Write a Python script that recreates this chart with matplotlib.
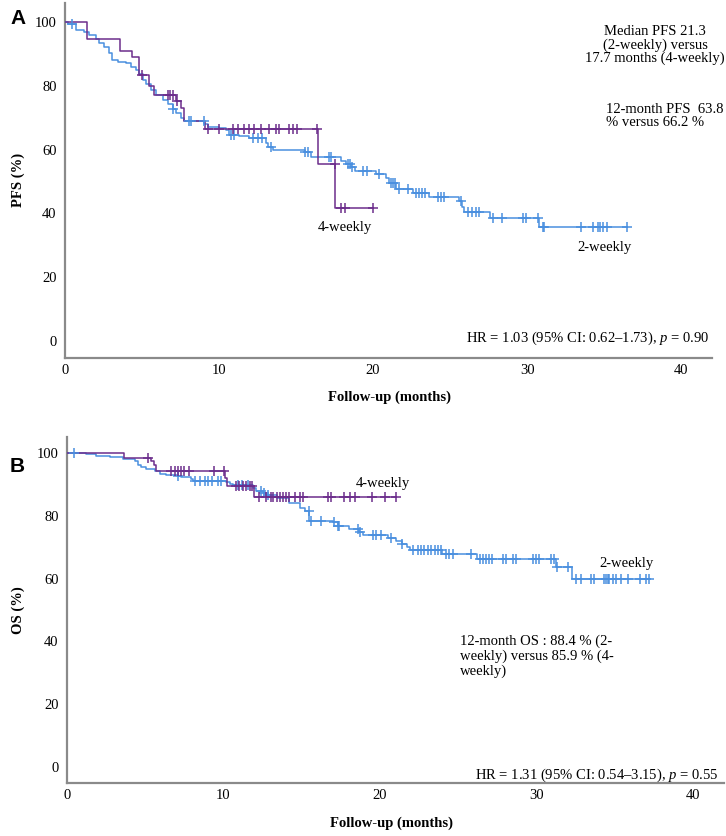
import numpy as np
import matplotlib
matplotlib.use("Agg")
import matplotlib.pyplot as plt

plt.rcParams['font.family'] = ['Liberation Serif', 'DejaVu Serif']
plt.rcParams['mathtext.fontset'] = 'custom'
plt.rcParams['mathtext.rm'] = 'Liberation Serif'
plt.rcParams['mathtext.it'] = 'Liberation Serif:italic'

# ---------------- Panel A (PFS) ----------------
a2_times = [0, 0.17, 0.71, 1.26, 1.58, 2.01, 2.23, 2.55, 2.88, 3.05, 3.42, 3.96, 4.29, 4.61,
            4.83, 5.04, 5.26, 5.58, 5.91, 6.34, 6.67, 6.99, 7.21, 7.53, 7.75, 9.05, 9.26, 10.0,
            10.45, 10.67, 11.3, 11.97, 13.05, 13.16, 13.5, 15.55, 15.98, 17.92, 18.25, 18.57,
            18.85, 20.2, 20.85, 21.06, 21.5, 22.6, 23.66, 25.6, 25.78, 25.93, 27.56, 30.76]
a2_surv = [100, 99.3, 97.4, 96.7, 95.8, 94.5, 93.4, 92.2, 90.1, 88.2, 87.5, 87.0, 85.9, 84.9,
           83.6, 81.8, 80.5, 78.6, 77.1, 75.5, 74.3, 72.6, 71.4, 69.8, 68.8, 68.0, 67.2, 66.7,
           66.1, 64.6, 64.1, 63.5, 62.0, 60.9, 60.0, 59.3, 57.8, 56.3, 55.5, 54.6,
           53.4, 52.4, 51.1, 49.5, 47.6, 46.4, 45.1, 43.8, 42.0, 40.3, 38.6, 35.7]
a2_censor = [0.43, 7.0, 8.07, 8.18, 9.0, 10.8, 11.0, 12.2, 12.5, 12.8, 13.4, 15.6, 15.76,
             17.12, 17.28, 18.36, 18.47, 18.6, 19.37, 19.59, 20.41, 21.17, 21.28, 21.39,
             21.71, 22.25, 22.79, 23.0, 23.2, 23.4, 24.2, 24.4, 24.6, 25.7, 26.15, 26.4,
             26.7, 26.9, 27.8, 28.4, 29.7, 29.9, 30.7, 31.0, 31.1, 33.5, 34.3, 34.6, 34.7,
             34.9, 35.2, 36.5]
a2_end = 36.5

a4_times = [0, 1.4, 3.57, 4.35, 4.8, 5.46, 5.8, 7.22, 7.53, 7.75, 9.1, 16.4, 17.55]
a4_surv = [100, 94.5, 90.8, 88.9, 83.4, 80.0, 77.1, 75.3, 72.9, 68.8, 66.5, 55.4, 41.7]
a4_censor = [5.0, 6.67, 6.8, 7.0, 7.25, 9.3, 10.0, 10.9, 11.2, 11.6, 11.95, 12.25, 12.75,
             13.25, 13.7, 13.9, 14.55, 14.8, 15.05, 16.38, 17.5, 17.9, 18.2, 20.0]
a4_end = 20.0

# ---------------- Panel B (OS) ----------------
b2_times = [0, 1.24, 1.88, 2.73, 3.58, 4.32, 4.54, 4.75, 5.07, 5.6, 5.92, 6.35, 7.1, 7.3,
            7.95, 8.05, 10.18, 10.4, 10.6, 11.9, 12.1, 12.5, 12.74, 13.4, 14.2, 14.9, 15.2,
            15.5, 17.0, 17.3, 18.0, 18.65, 18.9, 20.5, 21.0, 21.4, 21.75, 21.95, 24.0, 26.2,
            31.25, 32.3]
b2_surv = [100, 99.7, 99.2, 98.7, 98.2, 97.6, 96.3, 95.5, 94.9, 94.2, 93.5, 93.2, 92.8, 92.4,
           91.8, 91.3, 90.7, 90.3, 90.0, 88.8, 87.9, 87.4, 86.8, 85.6, 84.0, 82.6, 81.5,
           78.5, 78.0, 76.9, 76.0, 74.9, 73.8, 73.0, 72.0, 71.0, 70.0, 69.0, 67.8, 66.4,
           63.8, 59.8]
b2_censor = [0.43, 7.1, 8.16, 8.48, 8.8, 9.0, 9.3, 9.65, 9.86, 10.9, 11.2, 11.6, 12.4, 12.6,
             12.85, 15.48, 15.6, 16.25, 17.1, 17.3, 17.4, 18.6, 18.7, 19.55, 19.77, 20.1,
             20.7, 21.4, 22.1, 22.43, 22.64, 22.85, 23.07, 23.28, 23.5, 23.7, 23.9, 24.24,
             24.45, 24.66, 25.84, 26.37, 26.58, 26.8, 27.0, 27.2, 27.86, 28.07, 28.5, 28.7,
             29.78, 29.99, 30.2, 30.95, 31.16, 31.3, 32.0, 32.55, 32.87, 33.5, 33.7, 34.36,
             34.46, 34.57, 34.68, 34.89, 35.1, 35.4, 35.85, 36.6, 37.0, 37.2]
b2_end = 37.2

b4_times = [0, 3.62, 5.39, 5.54, 5.7, 10.07, 10.2, 11.95]
b4_surv = [100, 98.4, 97.4, 96.3, 94.4, 92.1, 89.7, 86.0]
b4_censor = [5.18, 6.67, 6.88, 7.1, 7.3, 7.5, 7.8, 9.4, 10.05, 10.8, 11.0, 11.25, 11.46,
             11.67, 11.84, 12.3, 12.7, 13.06, 13.16, 13.4, 13.6, 13.8, 14.0, 14.2, 14.55,
             14.9, 15.1, 16.7, 16.9, 17.7, 18.1, 18.4, 19.5, 20.3, 21.0]
b4_end = 21.0

x_ticks = [0, 10, 20, 30, 40]
y_ticks = [0, 20, 40, 60, 80, 100]

BLUE = '#4a8fdf'
PURPLE = '#6c2d8c'
SPINE = '#8a8a8a'

W, H = 726, 836
fig = plt.figure(figsize=(W / 100, H / 100), dpi=100)


def px_axes(left, top, right, bottom):
    return fig.add_axes([left / W, 1 - bottom / H, (right - left) / W, (bottom - top) / H])


def draw_km(ax, times, surv, censor, end, color):
    t = np.append(np.asarray(times, float), end)
    s = np.append(np.asarray(surv, float), surv[-1])
    ax.step(t, s, where='post', color=color, lw=1.1, zorder=3)
    c = np.asarray(censor, float)
    idx = np.searchsorted(np.asarray(times, float), c, side='right') - 1
    ax.plot(c, np.asarray(surv, float)[idx], ls='none', marker='+', ms=7, mew=1.1,
            color=color, zorder=4)


def style(ax, ylim):
    ax.set_xlim(0, 42)
    ax.set_ylim(*ylim)
    for s in ['top', 'right']:
        ax.spines[s].set_visible(False)
    for s in ['left', 'bottom']:
        ax.spines[s].set_color(SPINE)
        ax.spines[s].set_linewidth(1.6)
    ax.set_xticks(x_ticks)
    ax.set_yticks(y_ticks)
    ax.tick_params(length=0, labelsize=10.5)
    ax.tick_params(axis='y', pad=6)
    ax.tick_params(axis='x', pad=4)


def ftext(x, y, s, **kw):
    fig.text(x / W, 1 - y / H, s, **kw)


# Panel A
axA = px_axes(65, 3, 712, 358)
draw_km(axA, a2_times, a2_surv, a2_censor, a2_end, BLUE)
draw_km(axA, a4_times, a4_surv, a4_censor, a4_end, PURPLE)
style(axA, (-5.3, 105.9))

# Panel B
axB = px_axes(67, 437, 724, 783)
draw_km(axB, b2_times, b2_surv, b2_censor, b2_end, BLUE)
draw_km(axB, b4_times, b4_surv, b4_censor, b4_end, PURPLE)
style(axB, (-5.2, 105.2))

# Panel letters
ftext(10, 18, 'A', fontsize=15, fontweight='bold', family='Liberation Sans', va='center', ha='left')
ftext(10, 466, 'B', fontsize=15, fontweight='bold', family='Liberation Sans', va='center', ha='left')

# Axis labels
ftext(18, 180, 'PFS (%)', rotation=90, fontsize=10.5, fontweight='bold', va='center', ha='center')
ftext(18, 610, 'OS (%)', rotation=90, fontsize=10.5, fontweight='bold', va='center', ha='center')
ftext(390, 397, 'Follow-up (months)', fontsize=10.5, fontweight='bold', va='center', ha='center')
ftext(392, 823, 'Follow-up (months)', fontsize=10.5, fontweight='bold', va='center', ha='center')

# Annotations panel A
ftext(655, 45, 'Median PFS 21.3\n(2-weekly) versus\n17.7 months (4-weekly)', fontsize=10.5,
      ha='center', va='center', multialignment='center', linespacing=1.0)
ftext(606, 116, '12-month PFS  63.8\n% versus 66.2 %', fontsize=10.5, ha='left', va='center',
      linespacing=1.0)
ftext(345, 227, '4-weekly', fontsize=10.5, ha='center', va='center')
ftext(605, 248, '2-weekly', fontsize=10.5, ha='center', va='center')
ftext(709, 338, r'HR = 1.03 (95% CI: 0.62–1.73), $p$ = 0.90', fontsize=10.5, ha='right', va='center')

# Annotations panel B
ftext(383, 483, '4-weekly', fontsize=10.5, ha='center', va='center')
ftext(627, 563, '2-weekly', fontsize=10.5, ha='center', va='center')
ftext(460, 656, '12-month OS : 88.4 % (2-\nweekly) versus 85.9 % (4-\nweekly)', fontsize=10.5,
      ha='left', va='center', linespacing=1.15)
ftext(718, 775, r'HR = 1.31 (95% CI: 0.54–3.15), $p$ = 0.55', fontsize=10.5, ha='right', va='center')

fig.savefig('out.png', dpi=100)
